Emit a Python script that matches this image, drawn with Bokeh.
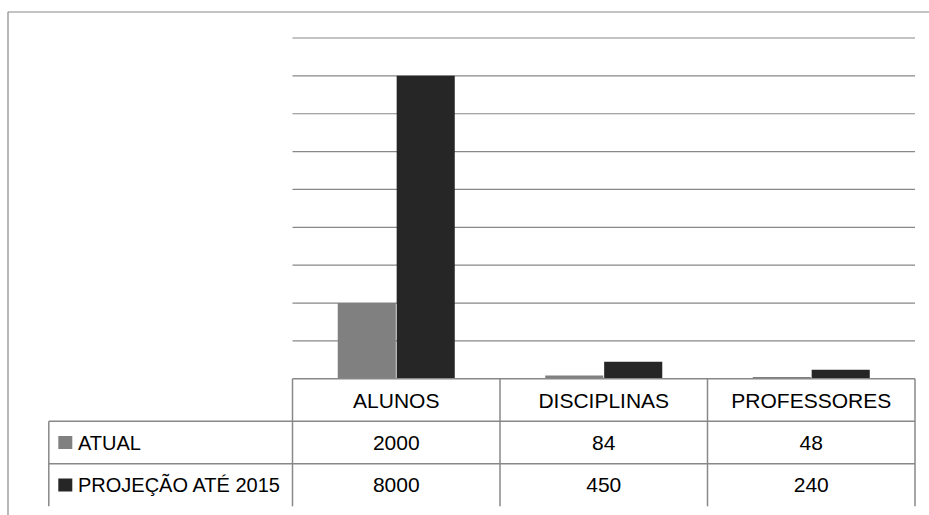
import numpy as np
from bokeh.plotting import figure
from bokeh.models import Range1d
from bokeh.core.properties import value
from bokeh.embed import file_html
from bokeh.resources import INLINE

# ---- data -------------------------------------------------------------
categories = ["ALUNOS", "DISCIPLINAS", "PROFESSORES"]
series_names = ["ATUAL", "PROJEÇÃO ATÉ 2015"]
atual = [2000, 84, 48]
projecao = [8000, 450, 240]
value_ticks = [1000, 2000, 3000, 4000, 5000, 6000, 7000, 8000, 9000]
series_colors = ["#808080", "#262626"]

# ---- layout (pixels) --------------------------------------------------
W, H = 929, 515
PLOT_L, PLOT_R = 292.0, 914.5      # category columns span
TOP_Y, BASE_Y = 37.5, 378.3        # top gridline / value axis baseline
ROW_H = 42.5                       # data-table row height
LEGEND_L = 48.3                    # left edge of the legend column
GRID_COLOR = "#888888"
FONT = value("Liberation Sans")
CELL_SIZE = "21px"
LEGEND_SIZE = "20px"

n_cat = len(categories)
n_ser = len(series_names)
col_w = (PLOT_R - PLOT_L) / n_cat
v_max = value_ticks[-1]
px_per_val = (BASE_Y - TOP_Y) / v_max

# x: one unit per category column, value axis in data units
x_range = Range1d(-PLOT_L / col_w, n_cat + (W - PLOT_R) / col_w)
y_range = Range1d(-(H - BASE_Y) / px_per_val, v_max + TOP_Y / px_per_val)

p = figure(width=W, height=H, x_range=x_range, y_range=y_range,
           output_backend="svg", toolbar_location=None,
           x_axis_location=None, y_axis_location=None,
           min_border=0, outline_line_color=None)
p.grid.visible = False
p.background_fill_color = "white"
p.border_fill_color = "white"

# table rows: 0 at the baseline, increasing downwards
p.extra_y_ranges = {"table": Range1d((H - BASE_Y) / ROW_H, -BASE_Y / ROW_H)}


def px_x(px):
    return (px - PLOT_L) / col_w


def px_y(py):
    return (BASE_Y - py) / px_per_val


# outer chart-area border (top and left edges)
p.line(x=[px_x(929.5), px_x(7.5), px_x(7.5)],
       y=[px_y(11.5), px_y(11.5), px_y(520)],
       line_color=GRID_COLOR, line_width=1.2)

# horizontal gridlines
p.segment(x0=0, x1=n_cat, y0=value_ticks, y1=value_ticks,
          line_color=GRID_COLOR, line_width=1.2)

# clustered columns
idx = np.arange(n_cat) + 0.5
bar_w = 0.28
offset = 0.142
p.vbar(x=idx - offset, width=bar_w, top=atual, bottom=0,
       fill_color=series_colors[0], line_color=None)
p.vbar(x=idx + offset, width=bar_w, top=projecao, bottom=0,
       fill_color=series_colors[1], line_color=None)

# ---- data table -------------------------------------------------------
leg_x = px_x(LEGEND_L)
n_rows = n_ser + 1
# horizontal rules
h_x0 = [0] + [leg_x] * n_ser
h_x1 = [n_cat] * n_rows
h_y = list(range(n_rows))
p.segment(x0=h_x0, x1=h_x1, y0=h_y, y1=h_y, y_range_name="table",
          line_color=GRID_COLOR, line_width=1.5)
# vertical rules
v_x = [leg_x] + list(range(n_cat + 1))
v_y0 = [1] + [0] * (n_cat + 1)
v_y1 = [n_rows] * (n_cat + 2)
p.segment(x0=v_x, x1=v_x, y0=v_y0, y1=v_y1, y_range_name="table",
          line_color=GRID_COLOR, line_width=1.5)

# header: category names
p.text(x=idx, y=[0.52] * n_cat, text=categories, y_range_name="table",
       text_font=FONT, text_font_size=CELL_SIZE, text_color="black",
       text_align="center", text_baseline="middle")

# value rows
for s, vals in enumerate([atual, projecao]):
    p.text(x=idx, y=[s + 1.5] * n_cat, text=[str(v) for v in vals],
           y_range_name="table",
           text_font=FONT, text_font_size=CELL_SIZE, text_color="black",
           text_align="center", text_baseline="middle")

# legend keys in the first column
row_y = [s + 1.5 for s in range(n_ser)]
p.rect(x=[px_x(64.8)] * n_ser, y=row_y, width=14, height=13,
       width_units="screen", height_units="screen", y_range_name="table",
       fill_color=series_colors, line_color=None)
p.text(x=[px_x(77.5)] * n_ser, y=row_y, text=series_names,
       y_range_name="table",
       text_font=FONT, text_font_size=LEGEND_SIZE, text_color="black",
       text_align="left", text_baseline="middle")

open("out.html", "w").write(file_html(p, INLINE))
